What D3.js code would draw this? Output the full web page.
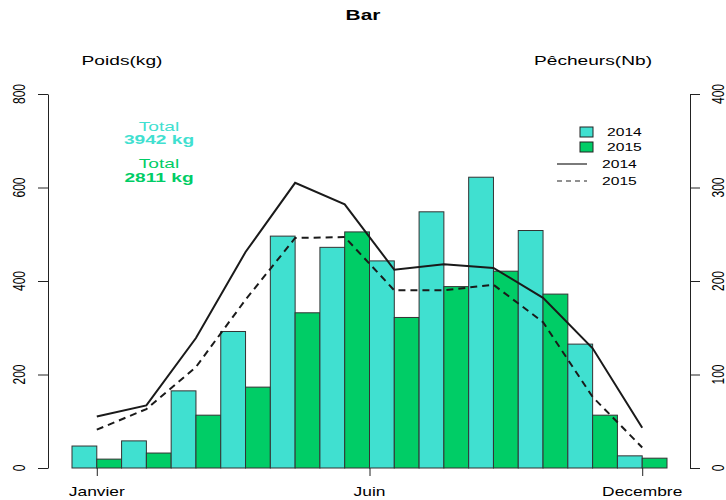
<!DOCTYPE html>
<html lang="fr">
<head>
<meta charset="UTF-8">
<title>Bar</title>
<script src="https://d3js.org/d3.v7.min.js"></script>
<style>
  body { margin: 0; background: #fff; }
  svg text { font-family: "Liberation Sans", Arial, sans-serif; fill: #000; }
</style>
</head>
<body>
<div id="chart"></div>
<script>
// monthly data
var months = ["Janvier", "Fevrier", "Mars", "Avril", "Mai", "Juin",
              "Juillet", "Aout", "Septembre", "Octobre", "Novembre", "Decembre"];
var years = ["2014", "2015"];
var poids2014 = [47, 58, 165, 292, 496, 472, 443, 548, 622, 508, 265, 26];
var poids2015 = [19, 32, 113, 173, 332, 505, 322, 388, 421, 372, 113, 21];
var pecheurs2014 = [55, 67, 139, 231, 305, 282, 212, 218, 214, 182, 128, 43];
var pecheurs2015 = [41, 63, 108, 180, 246, 247, 190, 190, 196, 156, 76, 22];
var xTicks = [1, 6.5, 12];
var xTickLabels = ["Janvier", "Juin", "Decembre"];
var leftTicks = [0, 200, 400, 600, 800];
var rightTicks = [0, 100, 200, 300, 400];

var width = 726, height = 500;
var SX = 1.45; // text is stretched horizontally in the reference
var col2014 = "#40E0D0", col2015 = "#00CD66";

var svg = d3.select("#chart").append("svg")
    .attr("width", width).attr("height", height);

var x = d3.scaleLinear().domain([0.5, 12.5]).range([72, 667]);
var yL = d3.scaleLinear().domain([0, 800]).range([468, 94]);
var yR = d3.scaleLinear().domain([0, 400]).range([468, 94]);
var bw = (x(2) - x(1)) / 2;

function txt(px, py, s, size, opts) {
    opts = opts || {};
    var t = svg.append("text")
        .attr("transform", "translate(" + px + "," + py + ") scale(" + SX + ",1)" + (opts.rot ? " rotate(-90)" : ""))
        .attr("text-anchor", opts.anchor || "middle")
        .style("font-size", size + "px")
        .text(s);
    if (opts.bold) t.style("font-weight", "bold");
    if (opts.color) t.style("fill", opts.color);
    return t;
}

// bars
var bars = [];
months.forEach(function (m, i) {
    bars.push({ m: i + 1, v: poids2014[i], off: -bw, c: col2014 });
    bars.push({ m: i + 1, v: poids2015[i], off: 0, c: col2015 });
});
svg.selectAll("rect.bar").data(bars).enter().append("rect")
    .attr("class", "bar")
    .attr("x", function (d) { return x(d.m) + d.off; })
    .attr("y", function (d) { return yL(d.v); })
    .attr("width", bw)
    .attr("height", function (d) { return yL(0) - yL(d.v); })
    .style("fill", function (d) { return d.c; })
    .style("stroke", "#333")
    .style("stroke-width", 1);

// lines on right axis
var line = d3.line()
    .x(function (d, i) { return x(i + 1); })
    .y(function (d) { return yR(d); });
svg.append("path").datum(pecheurs2014).attr("d", line)
    .style("fill", "none").style("stroke", "#1a1a1a").style("stroke-width", 2);
svg.append("path").datum(pecheurs2015).attr("d", line)
    .style("fill", "none").style("stroke", "#1a1a1a").style("stroke-width", 2)
    .style("stroke-dasharray", "7,5");

// left axis
var gl = svg.append("g").attr("transform", "translate(48,0)")
    .call(d3.axisLeft(yL).tickValues(leftTicks).tickSize(10).tickSizeOuter(0));
gl.selectAll("text").remove();
leftTicks.forEach(function (v) { txt(25, yL(v), v, 12, { rot: true }); });

// right axis
var gr = svg.append("g").attr("transform", "translate(690,0)")
    .call(d3.axisRight(yR).tickValues(rightTicks).tickSize(10).tickSizeOuter(0));
gr.selectAll("text").remove();
rightTicks.forEach(function (v) { txt(724, yR(v), v, 12, { rot: true }); });

// bottom axis
var gb = svg.append("g").attr("transform", "translate(0,468)")
    .call(d3.axisBottom(x).tickValues(xTicks).tickSize(8).tickSizeOuter(0));
gb.select(".domain").remove();
gb.selectAll("text").remove();
xTicks.forEach(function (v, i) { txt(x(v), 496, xTickLabels[i], 12); });
svg.selectAll(".domain, .tick line").style("stroke", "#222");

// titles
txt(363, 20, "Bar", 14.4, { bold: true });
txt(122, 65, "Poids(kg)", 13.2);
txt(593, 65, "Pêcheurs(Nb)", 13.2);

// totals
txt(159, 131, "Total", 13.2, { color: col2014 });
txt(159, 144, d3.sum(poids2014) + " kg", 13.2, { color: col2014, bold: true });
txt(159, 168, "Total", 13.2, { color: col2015 });
txt(159, 182, d3.sum(poids2015) + " kg", 13.2, { color: col2015, bold: true });

// legend
years.forEach(function (y, i) {
    svg.append("rect").attr("x", 580).attr("y", 127 + i * 15).attr("width", 13).attr("height", 10)
        .style("fill", i === 0 ? col2014 : col2015).style("stroke", "#222");
    txt(607, 136 + i * 15, y, 10.8, { anchor: "start" });
    svg.append("line").attr("x1", 557).attr("x2", 587)
        .attr("y1", 164 + i * 17).attr("y2", 164 + i * 17)
        .style("stroke", "#222").style("stroke-width", 1.2)
        .style("stroke-dasharray", i === 0 ? null : "5,4");
    txt(602, 168 + i * 17, y, 10.8, { anchor: "start" });
});
</script>
</body>
</html>
